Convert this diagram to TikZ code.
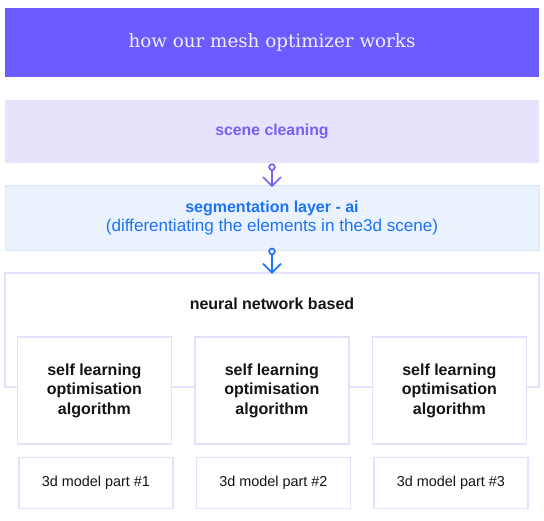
\documentclass[tikz,border=0pt]{standalone}
\usepackage{fontspec}
\setmainfont{Liberation Sans}
\newfontfamily\titlefont{DejaVu Serif}
\usepackage{xcolor}
\usetikzlibrary{arrows.meta,positioning}
\definecolor{meshViolet}{HTML}{6C5CFF}
\definecolor{meshTitle}{HTML}{F1EEFF}
\definecolor{meshLilac}{HTML}{E6E3FD}
\definecolor{meshPurple}{HTML}{7A5EF8}
\definecolor{meshSky}{HTML}{EAF2FE}
\definecolor{meshSkyLine}{HTML}{DCE5FB}
\definecolor{meshBlue}{HTML}{1E73F5}
\definecolor{meshLine}{HTML}{E4E1FD}
\definecolor{meshInk}{HTML}{141414}

\begin{document}
\begin{tikzpicture}[
        x=1pt, y=-1pt,
        node distance=12pt and 22pt,
        band/.style={rectangle, inner sep=0pt, minimum width=534pt},
        algo/.style={draw=meshLine, line width=1.5pt, fill=white, minimum width=154pt, minimum height=107pt, align=center, text=meshInk, font=\bfseries\fontsize{16}{19.5}\selectfont},
        part/.style={draw=meshLine, line width=1.5pt, fill=white, minimum width=154pt, minimum height=51pt, text=meshInk, font=\fontsize{14.4}{17}\selectfont},
        flow/.style={{Circle[open, length=7.5pt, fill=white]}-{Straight Barb[length=9pt, width=18pt]}, line width=1.7pt}
    ]
        \useasboundingbox (0,0) rectangle (544,520);

        \node[band, fill=meshViolet, minimum height=69pt, text=meshTitle, font=\titlefont\fontsize{18.3}{22}\selectfont] (title) at (272,42.5) {how our mesh optimizer works};
        \node[band, fill=meshLilac, minimum height=63pt, text=meshPurple, font=\bfseries\fontsize{15.8}{18}\selectfont] (cleaning) at (272,131.7) {scene cleaning};
        \node[band, fill=meshSky, draw=meshSkyLine, line width=1pt, minimum height=65pt, align=center, text=meshBlue, font=\fontsize{16}{18.7}\selectfont] (segmentation) at (272,218.2) {\textbf{segmentation layer - ai}\\{\fontsize{17.1}{18.7}\selectfont(differentiating the elements in the3d scene)}};
        \node[band, draw=meshLine, line width=1.5pt, minimum height=114pt] (network) at (272,330) {};
        \node[font=\bfseries\fontsize{16}{19}\selectfont, text=meshInk] (networklabel) at (272,304) {neural network based};

        % three optimisation columns
        \node[algo] (algoA) at (94.4,390.5) {self learning\\optimisation\\algorithm};
        \node[algo, right=of algoA] (algoB) {self learning\\optimisation\\algorithm};
        \node[algo, right=of algoB] (algoC) {self learning\\optimisation\\algorithm};

        \node[part, below=of algoA, xshift=1.5pt] (partA) {3d model part \#1};
        \node[part, below=of algoB, xshift=1.5pt] (partB) {3d model part \#2};
        \node[part, below=of algoC, xshift=1.5pt] (partC) {3d model part \#3};

        \draw[flow, meshPurple, shorten >=-2pt] (cleaning.south) -- (segmentation.north);
        \draw[flow, meshBlue, shorten <=-3.5pt, shorten >=-1.5pt] (segmentation.south) -- (network.north);
    \end{tikzpicture}
\end{document}
